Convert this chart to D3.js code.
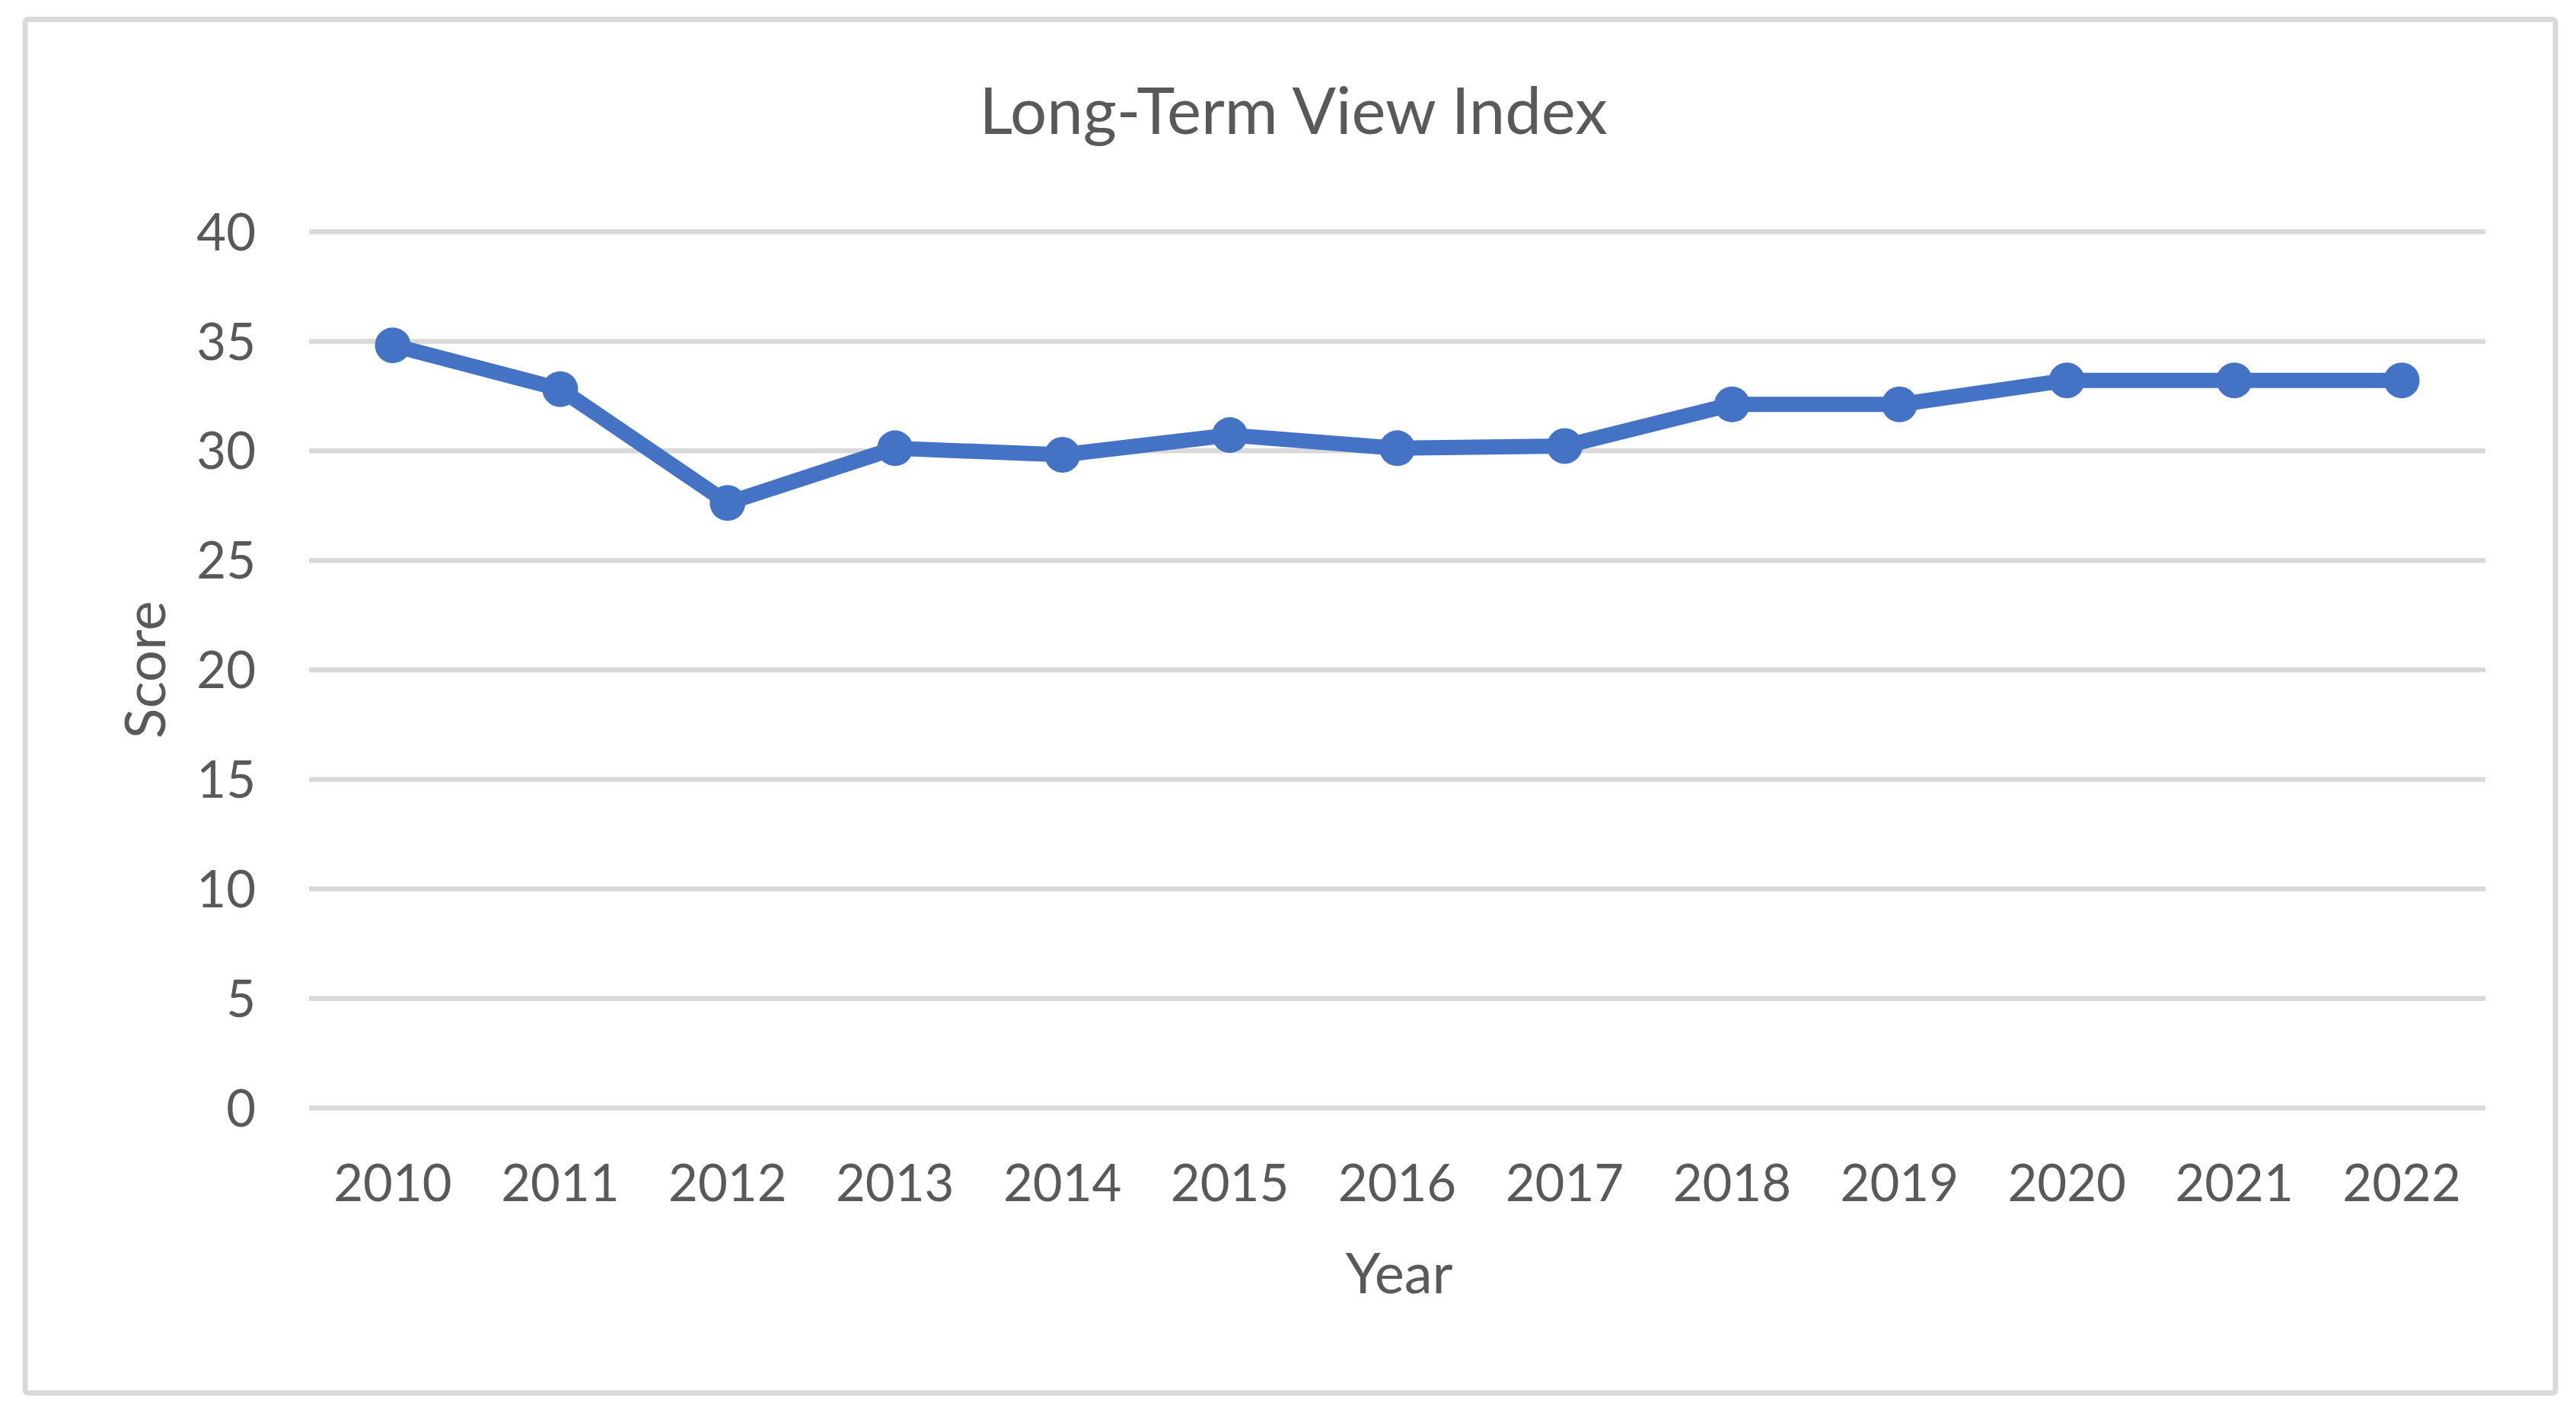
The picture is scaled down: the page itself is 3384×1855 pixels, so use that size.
<!DOCTYPE html>
<html>
<head>
<meta charset="utf-8">
<script src="https://cdn.jsdelivr.net/npm/d3@7"></script>
<style>
  html, body { margin: 0; padding: 0; background: #fff; }
  text { font-family: Lato, "Noto Sans", sans-serif; fill: #595959; }
</style>
</head>
<body>
<div id="chart"></div>
<script>
const years = ["2010", "2011", "2012", "2013", "2014", "2015", "2016", "2017", "2018", "2019", "2020", "2021", "2022"];
const scores = [34.8, 32.8, 27.6, 30.1, 29.8, 30.7, 30.1, 30.2, 32.1, 32.1, 33.2, 33.2, 33.2];
const yTicks = [0, 5, 10, 15, 20, 25, 30, 35, 40];

const W = 3384, H = 1855;
const margin = { top: 304, right: 119, bottom: 400, left: 406 };
const width = W - margin.left - margin.right;
const height = H - margin.top - margin.bottom;

const svg = d3.select("#chart")
    .append("svg")
    .attr("width", W)
    .attr("height", H);

// outer frame
svg.append("rect")
    .attr("x", 33)
    .attr("y", 25.5)
    .attr("width", 3324)
    .attr("height", 1804.5)
    .attr("rx", 4)
    .attr("fill", "#fff")
    .attr("stroke", "#d9d9d9")
    .attr("stroke-width", 7);

const g = svg.append("g")
    .attr("transform", `translate(${margin.left},${margin.top})`);

const x = d3.scaleBand()
    .domain(years)
    .range([0, width]);

const y = d3.scaleLinear()
    .domain([0, 40])
    .range([height, 0]);

// gridlines
g.append("g")
    .call(d3.axisLeft(y).tickValues(yTicks).tickSize(-width).tickFormat(""))
    .call(a => a.select(".domain").remove())
    .selectAll("line")
    .attr("stroke", "#d9d9d9")
    .attr("stroke-width", 6.5);

// y labels
g.append("g")
    .call(d3.axisLeft(y).tickValues(yTicks).tickSize(0).tickPadding(70))
    .call(a => a.select(".domain").remove())
    .selectAll("text")
    .attr("font-size", 67)
    .attr("dy", "0.36em")
    .style("fill", "#595959");

// x labels
g.append("g")
    .attr("transform", `translate(0,${height})`)
    .call(d3.axisBottom(x).tickSize(0).tickPadding(0))
    .call(a => a.select(".domain").remove())
    .selectAll("text")
    .attr("font-size", 67)
    .attr("dy", null)
    .attr("y", 1577 - 1454.5)
    .style("fill", "#595959");

g.selectAll(".tick text").attr("font-family", "Lato, 'Noto Sans', sans-serif");

const line = d3.line()
    .x((d, i) => x(years[i]) + x.bandwidth() / 2)
    .y(d => y(d));

g.append("path")
    .datum(scores)
    .attr("fill", "none")
    .attr("stroke", "#4472c4")
    .attr("stroke-width", 20)
    .attr("stroke-linejoin", "round")
    .attr("d", line);

g.selectAll("circle.pt")
    .data(scores)
    .join("circle")
    .attr("class", "pt")
    .attr("cx", (d, i) => x(years[i]) + x.bandwidth() / 2)
    .attr("cy", d => y(d))
    .attr("r", 23.5)
    .attr("fill", "#4472c4");

// titles
svg.append("text")
    .attr("x", 1699)
    .attr("y", 176)
    .attr("text-anchor", "middle")
    .attr("font-size", 85)
    .text("Long-Term View Index");

svg.append("text")
    .attr("x", 1838)
    .attr("y", 1699)
    .attr("text-anchor", "middle")
    .attr("font-size", 74)
    .text("Year");

svg.append("text")
    .attr("transform", "translate(217,880) rotate(-90)")
    .attr("text-anchor", "middle")
    .attr("font-size", 74)
    .text("Score");
</script>
</body>
</html>
